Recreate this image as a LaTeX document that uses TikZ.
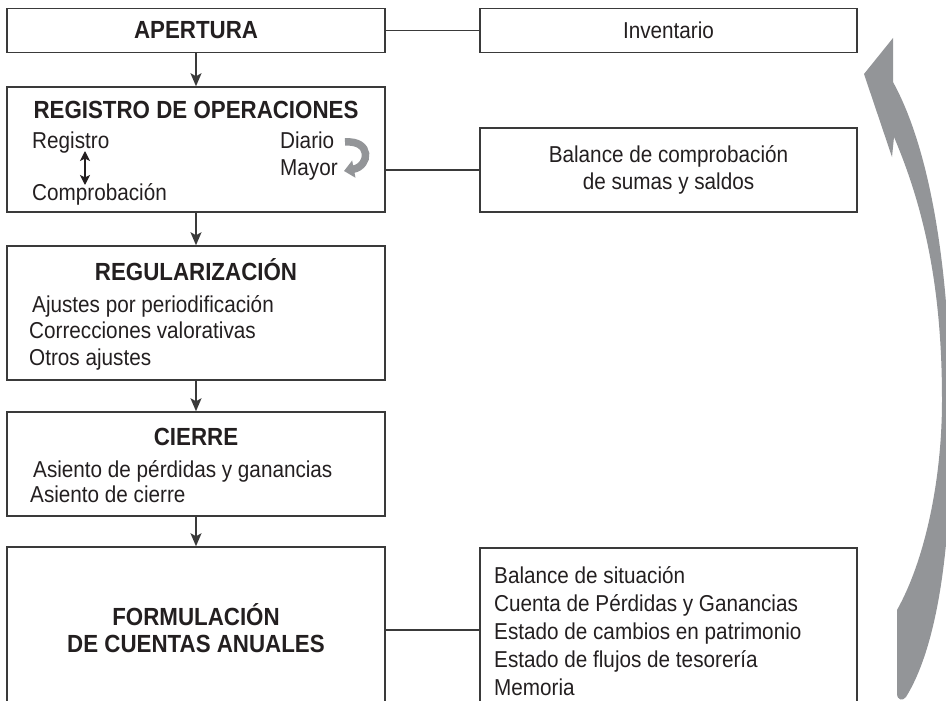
\documentclass[tikz,border=0pt]{standalone}
\usepackage{fontspec}
\setmainfont[FakeStretch=0.9]{Liberation Sans}
\usetikzlibrary{arrows.meta}
\definecolor{ink}{HTML}{231F20}
\definecolor{linec}{HTML}{3A3A3A}
\definecolor{arrowgray}{HTML}{939598}
\begin{document}
\begin{tikzpicture}[x=1pt,y=-1pt,
  box/.style={draw=linec, line width=1.5pt, rectangle, inner sep=0pt, minimum width=378pt},
  rbox/.style={box, minimum width=377pt},
  ttlfont/.style={font=\fontsize{24.8}{27}\selectfont\bfseries, text=ink},
  txtfont/.style={font=\fontsize{23}{27}\selectfont, text=ink},
  ttl/.style={ttlfont, anchor=base, inner sep=0pt},
  txt/.style={txtfont, anchor=base west, inner sep=0pt},
  conn/.style={draw=linec, line width=1.3pt},
  arr/.style={conn, -{Stealth[length=13pt,width=11pt,inset=3pt]}},
  darr/.style={draw=ink, line width=1.4pt, {Stealth[length=10pt,width=10pt,inset=2.5pt]}-{Stealth[length=10pt,width=10pt,inset=2.5pt]}}]
\useasboundingbox (0,0) rectangle (946,701);
\clip (0,0) rectangle (946,701);

% left column boxes
\node[box, minimum height=44pt, ttlfont] (apertura) at (196,30.5) {APERTURA};
\node[box, minimum height=125pt] (registro) at (196,149.5) {};
\node[box, minimum height=134pt] (regular) at (196,313) {};
\node[box, minimum height=104pt] (cierre) at (196,464) {};
\node[box, minimum height=166pt] (formul) at (196,630) {};

% right column boxes
\node[rbox, minimum height=44pt, txtfont] (inventario) at (668.5,30.5) {Inventario};
\node[rbox, minimum height=84pt, txtfont, align=center] (balance) at (668.5,170) {Balance de comprobación\\de sumas y saldos};
\node[rbox, minimum height=164pt] (cuentas) at (668.5,630) {};

% registro content
\node[ttl] (regtitle) at (196,118) {REGISTRO DE OPERACIONES};
\node[txt] (registrotxt) at (32,148) {Registro};
\node[txt] (comprob) at (32,200) {Comprobación};
\node[txt] (diario) at (280,148) {Diario};
\node[txt] (mayor) at (280,175) {Mayor};
\coordinate (da) at (85,151);
\coordinate (db) at (85,185);
\draw[darr] (da) -- (db);
\coordinate (ca) at (345,142);
\coordinate (cb) at (344,171);
\draw[arrowgray, line width=7.5pt, -{Triangle[length=10pt,width=17pt]}] (ca) .. controls (372,140) and (370,166) .. (cb);

% regularizacion content
\node[ttl] (regultitle) at (196,280) {REGULARIZACIÓN};
\node[txt] (ajustes) at (32,312) {Ajustes por periodificación};
\node[txt] (correc) at (29,338) {Correcciones valorativas};
\node[txt] (otros) at (29,365) {Otros ajustes};

% cierre content
\node[ttl] (cierretitle) at (196,445) {CIERRE};
\node[txt] (asiento1) at (33,477) {Asiento de pérdidas y ganancias};
\node[txt] (asiento2) at (30,502) {Asiento de cierre};

% formulacion content
\node[ttlfont, align=center, inner sep=0pt] (formtitle) at (196,628) {FORMULACIÓN\\DE CUENTAS ANUALES};
\node[font=\fontsize{23}{28}\selectfont, text=ink, align=left, anchor=west, inner sep=0pt] (cuentastxt) at (494,631)
  {Balance de situación\\Cuenta de Pérdidas y Ganancias\\Estado de cambios en patrimonio\\Estado de flujos de tesorería\\Memoria};

% connectors
\draw[conn] (apertura.east) -- (inventario.west);
\draw[conn] (registro.east |- balance.west) -- (balance.west);
\draw[conn] (formul.east) -- (cuentas.west);
\draw[arr] (apertura.south) -- (registro.north);
\draw[arr] (registro.south) -- (regular.north);
\draw[arr] (regular.south) -- (cierre.north);
\draw[arr] (cierre.south) -- (formul.north);

% big return arrow
\fill[arrowgray] (893,38) -- (893,82) .. controls (925,140) and (951,250) .. (951,430)
  .. controls (951,560) and (935,650) .. (906,697)
  .. controls (903,701) and (897,701) .. (897,693) -- (897,610)
  .. controls (925,560) and (942,480) .. (942,400)
  .. controls (942,290) and (925,210) .. (894,137) -- (892,157) -- (864,74) -- cycle;
\end{tikzpicture}
\end{document}
